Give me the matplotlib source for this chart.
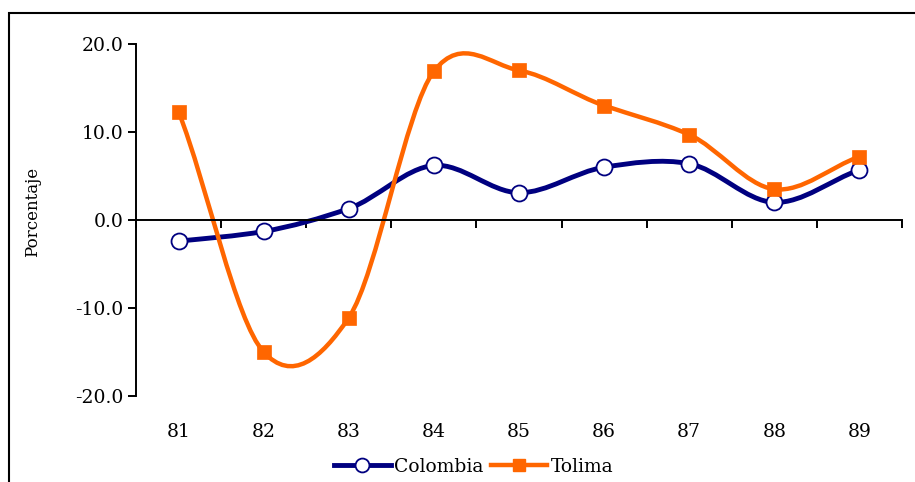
import numpy as np
import matplotlib
matplotlib.use("Agg")
import matplotlib.pyplot as plt
from matplotlib.path import Path
from matplotlib.patches import PathPatch, Rectangle
from matplotlib.lines import Line2D
from matplotlib.transforms import blended_transform_factory

# ==============================
# DATA
# ==============================
years = [81, 82, 83, 84, 85, 86, 87, 88, 89]
colombia = [-2.4, -1.3, 1.3, 6.2, 3.1, 6.0, 6.4, 2.0, 5.7]
tolima = [12.3, -15.0, -11.1, 16.9, 17.0, 13.0, 9.7, 3.5, 7.2]
y_ticks = [-20.0, -10.0, 0.0, 10.0, 20.0]

NAVY = "#000080"
ORANGE = "#FF6600"
plt.rcParams["font.family"] = ["DejaVu Serif"]


def smooth_path(xs, ys, tension=0.9):
    # Catmull-Rom style bezier, close to Excel's "smoothed line"
    xs = np.asarray(xs, float)
    ys = np.asarray(ys, float)
    n = len(xs)
    mx = np.empty(n)
    my = np.empty(n)
    for i in range(n):
        a = max(i - 1, 0)
        b = min(i + 1, n - 1)
        k = 2.0 if (i > 0 and i < n - 1) else 1.0
        mx[i] = (xs[b] - xs[a]) / k
        my[i] = tension * (ys[b] - ys[a]) / k
    verts = [(xs[0], ys[0])]
    codes = [Path.MOVETO]
    for i in range(n - 1):
        verts += [(xs[i] + mx[i] / 3, ys[i] + my[i] / 3),
                  (xs[i + 1] - mx[i + 1] / 3, ys[i + 1] - my[i + 1] / 3),
                  (xs[i + 1], ys[i + 1])]
        codes += [Path.CURVE4] * 3
    return Path(verts, codes)


# ==============================
# FIGURE
# ==============================
fig = plt.figure(figsize=(9.15, 4.82), dpi=100)
ax = fig.add_axes([136 / 915, 1 - 396 / 482, (902 - 136) / 915, (396 - 44) / 482])

ax.add_patch(PathPatch(smooth_path(years, colombia), facecolor="none",
                       edgecolor=NAVY, lw=3.5, zorder=2, capstyle="round"))
ax.add_patch(PathPatch(smooth_path(years, tolima), facecolor="none",
                       edgecolor=ORANGE, lw=3.2, zorder=2, capstyle="round"))
ax.plot(years, colombia, linestyle="none", marker="o", ms=11.5,
        mfc="white", mec=NAVY, mew=1.3, zorder=3)
ax.plot(years, tolima, linestyle="none", marker="s", ms=9.8,
        mfc=ORANGE, mec=ORANGE, mew=0.5, zorder=4)

ax.set_xlim(years[0] - 0.5, years[-1] + 0.5)
ax.set_ylim(-20, 20)

# axes styling
for s in ["top", "right"]:
    ax.spines[s].set_visible(False)
ax.spines["bottom"].set_position(("data", 0))
ax.spines["left"].set_linewidth(1.4)
ax.spines["bottom"].set_linewidth(1.4)

ax.set_yticks(y_ticks)
ax.set_yticklabels([f"{v:.1f}" for v in y_ticks], fontsize=13.5)
ax.tick_params(axis="y", direction="out", length=6, width=1.4, pad=3)

bounds = [y - 0.5 for y in years] + [years[-1] + 0.5]
ax.set_xticks(bounds)
ax.set_xticklabels([])
ax.tick_params(axis="x", direction="out", length=6, width=1.4)

trans = blended_transform_factory(ax.transData, ax.transAxes)
for yr in years:
    ax.text(yr, -0.102, str(yr), transform=trans, ha="center", va="center",
            fontsize=13.5)

fig.text(33 / 915, 1 - 212 / 482, "Porcentaje", rotation=90,
         ha="center", va="center", fontsize=12)

# legend
handles = [
    Line2D([], [], color=NAVY, lw=3.5, marker="o", ms=10, mfc="white",
           mec=NAVY, mew=1.3),
    Line2D([], [], color=ORANGE, lw=3.2, marker="s", ms=9, mfc=ORANGE,
           mec=ORANGE),
]
fig.legend(handles, ["Colombia", "Tolima"], loc="center",
           bbox_to_anchor=(474 / 915, 1 - 467 / 482), ncol=2, frameon=False,
           fontsize=13.5, handlelength=3.0, handletextpad=0.2,
           columnspacing=0.4, borderpad=0)

# outer frame (cut by the image edges) and the clipped title
fig.add_artist(Rectangle((9 / 915, -0.2), 1.5, 1 - 13 / 482 + 0.2,
                         transform=fig.transFigure, fill=False,
                         edgecolor="black", lw=1.5, clip_on=False))
fig.text(247 / 915, 1 + 5 / 482, "p", fontsize=16, fontweight="bold",
         ha="center", va="baseline")

fig.savefig("out.png", dpi=100)
